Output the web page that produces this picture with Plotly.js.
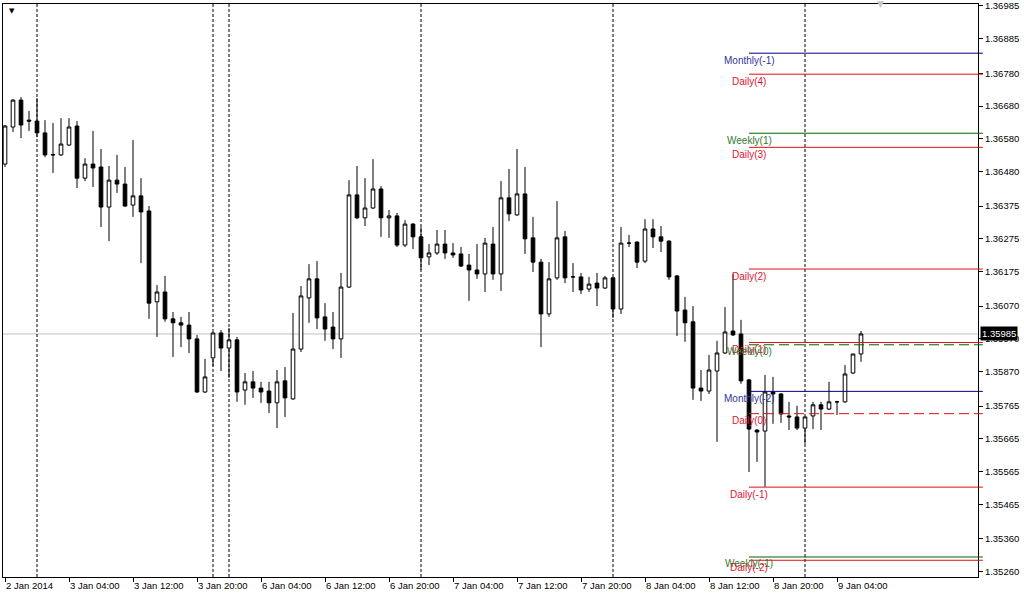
<!DOCTYPE html>
<html>
<head>
<meta charset="utf-8">
<script src="https://cdn.plot.ly/plotly-3.0.1.min.js"></script>
<style>
  html, body { margin: 0; padding: 0; background: #ffffff; }
  #chart { width: 1024px; height: 597px; }
</style>
</head>
<body>
<div id="chart"></div>
<script>
// ---- Data (EURUSD-like H1 bars) ----
const times = [
  "2014-01-02 20:00","2014-01-02 21:00","2014-01-02 22:00","2014-01-02 23:00",
  "2014-01-03 00:00","2014-01-03 01:00","2014-01-03 02:00","2014-01-03 03:00","2014-01-03 04:00","2014-01-03 05:00",
  "2014-01-03 06:00","2014-01-03 07:00","2014-01-03 08:00","2014-01-03 09:00","2014-01-03 10:00","2014-01-03 11:00",
  "2014-01-03 12:00","2014-01-03 13:00","2014-01-03 14:00","2014-01-03 15:00","2014-01-03 16:00","2014-01-03 17:00",
  "2014-01-03 18:00","2014-01-03 19:00","2014-01-03 20:00","2014-01-03 21:00",
  "2014-01-05 22:00","2014-01-05 23:00",
  "2014-01-06 00:00","2014-01-06 01:00","2014-01-06 02:00","2014-01-06 03:00","2014-01-06 04:00","2014-01-06 05:00",
  "2014-01-06 06:00","2014-01-06 07:00","2014-01-06 08:00","2014-01-06 09:00","2014-01-06 10:00","2014-01-06 11:00",
  "2014-01-06 12:00","2014-01-06 13:00","2014-01-06 14:00","2014-01-06 15:00","2014-01-06 16:00","2014-01-06 17:00",
  "2014-01-06 18:00","2014-01-06 19:00","2014-01-06 20:00","2014-01-06 21:00","2014-01-06 22:00","2014-01-06 23:00",
  "2014-01-07 00:00","2014-01-07 01:00","2014-01-07 02:00","2014-01-07 03:00","2014-01-07 04:00","2014-01-07 05:00",
  "2014-01-07 06:00","2014-01-07 07:00","2014-01-07 08:00","2014-01-07 09:00","2014-01-07 10:00","2014-01-07 11:00",
  "2014-01-07 12:00","2014-01-07 13:00","2014-01-07 14:00","2014-01-07 15:00","2014-01-07 16:00","2014-01-07 17:00",
  "2014-01-07 18:00","2014-01-07 19:00","2014-01-07 20:00","2014-01-07 21:00","2014-01-07 22:00","2014-01-07 23:00",
  "2014-01-08 00:00","2014-01-08 01:00","2014-01-08 02:00","2014-01-08 03:00","2014-01-08 04:00","2014-01-08 05:00",
  "2014-01-08 06:00","2014-01-08 07:00","2014-01-08 08:00","2014-01-08 09:00","2014-01-08 10:00","2014-01-08 11:00",
  "2014-01-08 12:00","2014-01-08 13:00","2014-01-08 14:00","2014-01-08 15:00","2014-01-08 16:00","2014-01-08 17:00",
  "2014-01-08 18:00","2014-01-08 19:00","2014-01-08 20:00","2014-01-08 21:00","2014-01-08 22:00","2014-01-08 23:00",
  "2014-01-09 00:00","2014-01-09 01:00","2014-01-09 02:00","2014-01-09 03:00","2014-01-09 04:00","2014-01-09 05:00",
  "2014-01-09 06:00","2014-01-09 07:00"
];

const openP = [1.36503,1.36616,1.36698,1.36637,1.36634,1.36598,1.36532,1.36531,1.36561,1.36619,
  1.36460,1.36503,1.36494,1.36372,1.36454,1.36442,1.36378,1.36406,1.36360,1.36083,
  1.36113,1.36031,1.36019,1.36012,1.35970,1.35808,1.35912,1.35988,1.35942,1.35967,
  1.35814,1.35839,1.35820,1.35811,1.35775,1.35842,1.35787,1.35939,1.36095,1.36153,
  1.36037,1.36006,1.35970,1.36128,1.36409,1.36339,1.36369,1.36427,1.36339,1.36345,
  1.36256,1.36320,1.36281,1.36220,1.36232,1.36259,1.36232,1.36229,1.36195,1.36180,
  1.36168,1.36259,1.36168,1.36400,1.36348,1.36412,1.36278,1.36204,1.36046,1.36156,
  1.36281,1.36159,1.36159,1.36122,1.36140,1.36125,1.36156,1.36061,1.36262,1.36265,
  1.36207,1.36305,1.36281,1.36268,1.36162,1.36058,1.36022,1.35820,1.35811,1.35872,
  1.35927,1.35994,1.35985,1.35845,1.35692,1.35689,1.35808,1.35802,1.35735,1.35732,
  1.35698,1.35735,1.35769,1.35756,1.35778,1.35778,1.35866,1.35924];

const highP = [1.36622,1.36701,1.36707,1.36665,1.36704,1.36637,1.36628,1.36643,1.36643,1.36634,
  1.36521,1.36604,1.36549,1.36497,1.36531,1.36494,1.36576,1.36460,1.36375,1.36134,
  1.36162,1.36052,1.36037,1.36052,1.35982,1.35909,1.35991,1.35997,1.36003,1.35976,
  1.35866,1.35872,1.35839,1.35839,1.35875,1.35884,1.36049,1.36131,1.36198,1.36207,
  1.36079,1.36052,1.36171,1.36454,1.36497,1.36460,1.36518,1.36436,1.36363,1.36354,
  1.36332,1.36323,1.36311,1.36259,1.36302,1.36302,1.36262,1.36250,1.36229,1.36259,
  1.36278,1.36311,1.36451,1.36488,1.36549,1.36494,1.36342,1.36214,1.36204,1.36390,
  1.36299,1.36201,1.36171,1.36159,1.36171,1.36162,1.36159,1.36311,1.36287,1.36268,
  1.36335,1.36335,1.36314,1.36271,1.36165,1.36098,1.36070,1.35875,1.35921,1.35964,
  1.36067,1.36168,1.36028,1.35848,1.35695,1.35860,1.35854,1.35805,1.35778,1.35766,
  1.35732,1.35778,1.35778,1.35839,1.35781,1.35890,1.35924,1.35994];

const lowP = [1.36494,1.36601,1.36582,1.36604,1.36585,1.36524,1.36476,1.36528,1.36558,1.36430,
  1.36451,1.36433,1.36311,1.36268,1.36415,1.36372,1.36342,1.36201,1.36031,1.35976,
  1.36022,1.35915,1.35945,1.35927,1.35805,1.35805,1.35887,1.35872,1.35851,1.35778,
  1.35769,1.35790,1.35775,1.35744,1.35698,1.35732,1.35784,1.35930,1.36019,1.36000,
  1.35964,1.35939,1.35912,1.36125,1.36335,1.36314,1.36366,1.36281,1.36278,1.36250,
  1.36250,1.36244,1.36180,1.36195,1.36226,1.36214,1.36217,1.36189,1.36086,1.36153,
  1.36113,1.36150,1.36116,1.36329,1.36345,1.36229,1.36174,1.35945,1.36037,1.36150,
  1.36140,1.36113,1.36107,1.36113,1.36070,1.36122,1.36034,1.36046,1.36250,1.36186,
  1.36201,1.36247,1.36235,1.36150,1.35979,1.35961,1.35784,1.35781,1.35802,1.35656,
  1.35924,1.35979,1.35833,1.35564,1.35595,1.35519,1.35711,1.35714,1.35692,1.35692,
  1.35650,1.35695,1.35692,1.35753,1.35738,1.35775,1.35863,1.35900];

const closeP = [1.36619,1.36698,1.36622,1.36634,1.36598,1.36531,1.36531,1.36564,1.36616,1.36460,
  1.36503,1.36491,1.36372,1.36454,1.36442,1.36375,1.36406,1.36357,1.36079,1.36113,
  1.36031,1.36019,1.36012,1.35970,1.35808,1.35854,1.35988,1.35942,1.35967,1.35808,
  1.35839,1.35820,1.35808,1.35775,1.35839,1.35790,1.35939,1.36101,1.36153,1.36034,
  1.36000,1.35970,1.36128,1.36409,1.36339,1.36369,1.36427,1.36339,1.36345,1.36256,
  1.36320,1.36281,1.36217,1.36232,1.36259,1.36232,1.36226,1.36192,1.36180,1.36168,
  1.36262,1.36168,1.36400,1.36351,1.36412,1.36275,1.36204,1.36046,1.36153,1.36278,
  1.36156,1.36159,1.36119,1.36137,1.36125,1.36156,1.36061,1.36262,1.36262,1.36204,
  1.36305,1.36281,1.36268,1.36159,1.36055,1.36019,1.35820,1.35811,1.35875,1.35927,
  1.35991,1.35982,1.35842,1.35695,1.35686,1.35808,1.35802,1.35741,1.35732,1.35698,
  1.35732,1.35769,1.35756,1.35778,1.35778,1.35863,1.35924,1.35985];

// x-axis labels
const xTickTimes = ["2014-01-02 20:00","2014-01-03 04:00","2014-01-03 12:00","2014-01-03 20:00",
  "2014-01-06 04:00","2014-01-06 12:00","2014-01-06 20:00","2014-01-07 04:00","2014-01-07 12:00",
  "2014-01-07 20:00","2014-01-08 04:00","2014-01-08 12:00","2014-01-08 20:00","2014-01-09 04:00"];
const xTickText = ["2 Jan 2014","3 Jan 04:00","3 Jan 12:00","3 Jan 20:00","6 Jan 04:00","6 Jan 12:00",
  "6 Jan 20:00","7 Jan 04:00","7 Jan 12:00","7 Jan 20:00","8 Jan 04:00","8 Jan 12:00","8 Jan 20:00","9 Jan 04:00"];

// y-axis labels
const yTickText = ["1.36985","1.36885","1.36780","1.36680","1.36580","1.36480","1.36375","1.36275","1.36175",
  "1.36070","1.35970","1.35870","1.35765","1.35665","1.35565","1.35465","1.35360","1.35260"];

// day separators
const separators = ["2014-01-03 00:00","2014-01-05 22:00","2014-01-06 00:00","2014-01-07 00:00",
  "2014-01-08 00:00","2014-01-09 00:00"];

// pivot levels
const pivotNames  = ["Monthly(-1)","Daily(4)","Weekly(1)","Daily(3)","Daily(2)","Daily(1)","Weekly(0)",
  "Monthly(-2)","Daily(0)","Daily(-1)","Weekly(-1)","Daily(-2)"];
const pivotLevels = [1.36841,1.36777,1.36597,1.36554,1.36183,1.35959,1.35952,1.35810,1.35742,1.35518,1.35305,1.35295];
const pivotStart  = "2014-01-08 17:00";

const bidPrice = 1.35985;
const bidLabel = "1.35985";

// ---- Styles ----
const FONT = "Liberation Sans, Arial, sans-serif";
const lineColors = { Monthly: "#000080", Daily: "#dd1111", Weekly: "#006400" };
const textColors = { Monthly: "#33339a", Daily: "#e01432", Weekly: "#2f7a2f" };
const xMin = -0.25, xMax = 121.625;

const idx = t => times.indexOf(t);

const shapes = [];
// bid line
shapes.push({ type: "line", xref: "paper", x0: 0, x1: 1, yref: "y", y0: bidPrice, y1: bidPrice,
  line: { color: "#c0c0c0", width: 1 }, layer: "below" });
// separators
separators.forEach(t => {
  const i = idx(t);
  shapes.push({ type: "line", xref: "x", x0: i, x1: i, yref: "paper", y0: 0, y1: 1,
    line: { color: "#000000", width: 1, dash: "3px,2px" }, layer: "below" });
});
// pivots
const annotations = [];
pivotNames.forEach((name, k) => {
  const kind = name.replace(/\(.*$/, "");
  const dashed = /\(0\)$/.test(name);
  const lvl = pivotLevels[k];
  shapes.push({ type: "line", xref: "x", x0: idx(pivotStart), x1: xMax + 5, yref: "y", y0: lvl, y1: lvl,
    line: { color: lineColors[kind], width: 1, dash: dashed ? "10px,5px" : "solid" } });
  shapes.push({ type: "line", xref: "paper", x0: 1, x1: 1.005, yref: "y", y0: lvl, y1: lvl,
    line: { color: lineColors[kind], width: 1 } });
  annotations.push({ x: idx(pivotStart), y: lvl, xref: "x", yref: "y", text: name, showarrow: false,
    xanchor: "center", yanchor: "middle", yshift: -7,
    font: { family: FONT, size: 10, color: textColors[kind] } });
});
// bid price label
annotations.push({ xref: "paper", x: 1, xanchor: "left", xshift: 2, yref: "y", y: bidPrice, yanchor: "middle",
  text: bidLabel, showarrow: false, bgcolor: "#000000", borderpad: 1,
  font: { family: FONT, size: 9.5, color: "#ffffff" } });
// top-left marker and chart-shift marker
annotations.push({ xref: "paper", yref: "paper", x: 0.009, y: 0.987, xanchor: "center", yanchor: "middle",
  text: "▼", showarrow: false, font: { family: "DejaVu Sans", size: 7, color: "#000000" } });
annotations.push({ xref: "paper", yref: "paper", x: 0.8995, y: 1.0, xanchor: "center", yanchor: "middle",
  text: "▼", showarrow: false, font: { family: "DejaVu Sans", size: 9, color: "#c8c8c8" } });

const trace = {
  type: "candlestick",
  x: times, open: openP, high: highP, low: lowP, close: closeP,
  increasing: { line: { color: "#000000", width: 1 }, fillcolor: "#ffffff" },
  decreasing: { line: { color: "#000000", width: 1 }, fillcolor: "#000000" },
  whiskerwidth: 0,
  hoverinfo: "skip",
  showlegend: false
};

const layout = {
  width: 1024, height: 597,
  margin: { l: 3, r: 46, t: 4, b: 20 },
  paper_bgcolor: "#ffffff", plot_bgcolor: "#ffffff",
  showlegend: false,
  boxgap: 0.35,
  font: { family: FONT, size: 9.5, color: "#000000" },
  xaxis: {
    type: "category", range: [xMin, xMax], rangeslider: { visible: false },
    showgrid: false, zeroline: false,
    showline: true, linecolor: "#000000", linewidth: 1, mirror: true,
    ticks: "outside", ticklen: 4, tickcolor: "#000000",
    tickvals: xTickTimes, ticktext: xTickText,
    ticklabelposition: "outside right",
    tickfont: { family: FONT, size: 9.5, color: "#000000" },
    fixedrange: true
  },
  yaxis: {
    side: "right", range: [1.35244, 1.36991],
    showgrid: false, zeroline: false,
    showline: true, linecolor: "#000000", linewidth: 1, mirror: true,
    ticks: "outside", ticklen: 4, tickcolor: "#000000",
    tickvals: yTickText.map(Number), ticktext: yTickText,
    tickfont: { family: FONT, size: 9.5, color: "#000000" },
    fixedrange: true
  },
  shapes: shapes,
  annotations: annotations
};

Plotly.newPlot("chart", [trace], layout, { displayModeBar: false, staticPlot: true });
</script>
</body>
</html>
